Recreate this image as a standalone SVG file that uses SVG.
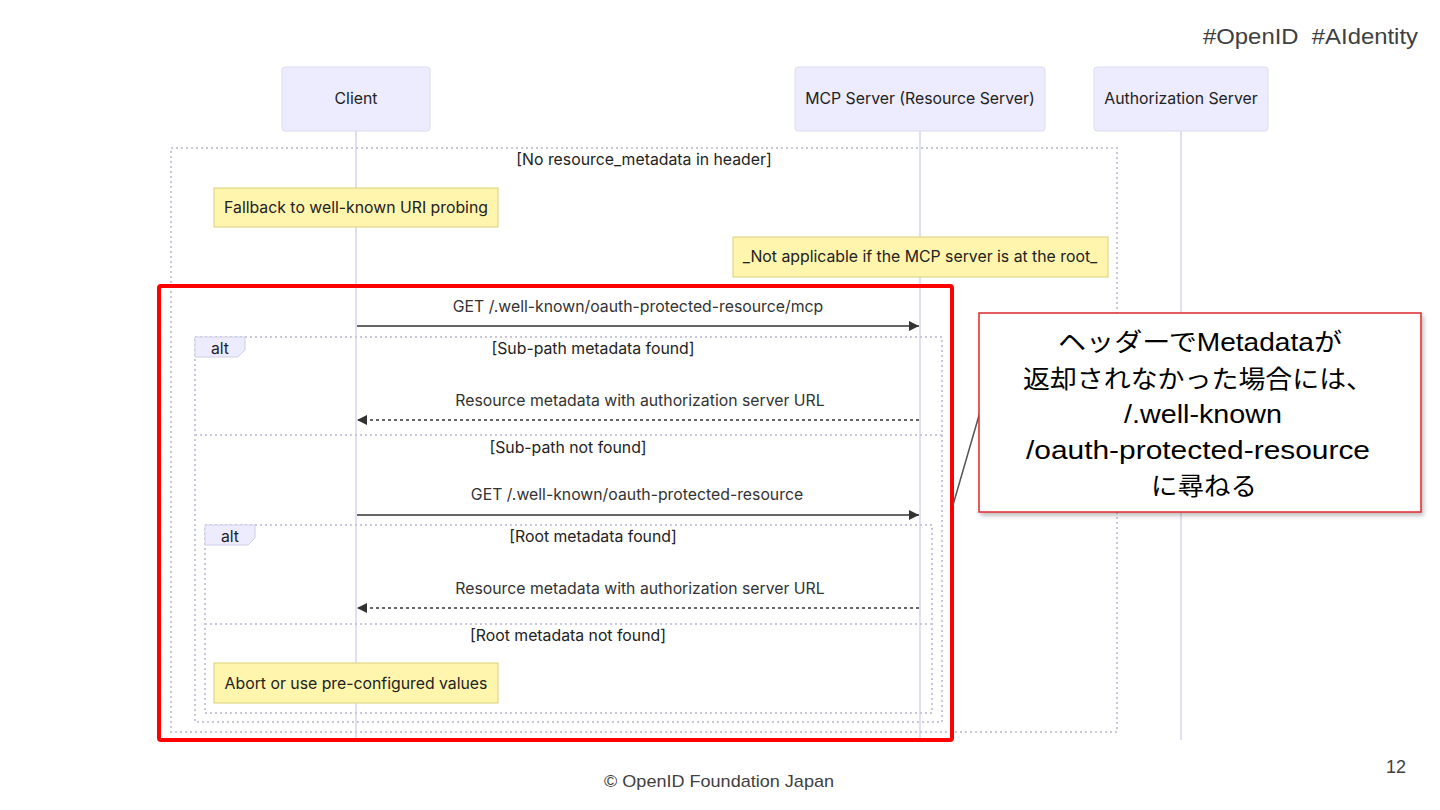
<svg xmlns="http://www.w3.org/2000/svg" width="1440" height="810" viewBox="0 0 1440 810">
<style>
.actor{fill:#ececfe;stroke:#dcdcf2;stroke-width:1}
.atext{font-family:Inter,"Liberation Sans",sans-serif;font-size:15.8px;fill:#222;text-anchor:middle}
.life{stroke:#d6d6ee;stroke-width:1.5;fill:none}
.frame{fill:none;stroke:#c8c8dc;stroke-width:2;stroke-dasharray:2 3}
.note{fill:#fff5ad;stroke:#dccf7a;stroke-width:1}
.ntext{font-family:Inter,"Liberation Sans",sans-serif;font-size:15.8px;fill:#222;text-anchor:middle}
.mtext{font-family:Inter,"Liberation Sans",sans-serif;font-size:15.8px;fill:#333;text-anchor:middle}
.ltext{font-family:Inter,"Liberation Sans",sans-serif;font-size:15.8px;fill:#222;text-anchor:middle}
.msg{stroke:#333;stroke-width:1.5;fill:none}
.dash{stroke-dasharray:3 3}
.altbox{fill:#ececfe;stroke:#d0d0e6;stroke-width:1}
.ctext{font-family:"Liberation Sans",Arial,"Noto Sans CJK JP",sans-serif;font-size:25px;fill:#000;text-anchor:middle}
.slide{font-family:"Liberation Sans",Arial,sans-serif;fill:#404040}
</style>
<defs>
<marker id="ah" viewBox="0 0 10 10" refX="10" refY="5" markerWidth="10" markerHeight="10" markerUnits="userSpaceOnUse" orient="auto">
<path d="M0,0 L10,5 L0,10 z" fill="#333"/>
</marker>
<filter id="sh" x="-5%" y="-5%" width="115%" height="120%">
<feDropShadow dx="2" dy="3" stdDeviation="2" flood-color="#000" flood-opacity="0.25"/>
</filter>
</defs>
<rect width="1440" height="810" fill="#fff"/>
<text class="slide" x="1203" y="44" font-size="22" textLength="215" lengthAdjust="spacingAndGlyphs" xml:space="preserve">#OpenID  #AIdentity</text>

<g id="lifelines">
<line class="life" x1="356" y1="131" x2="356" y2="740"/>
<line class="life" x1="920" y1="131" x2="920" y2="740"/>
<line class="life" x1="1181" y1="131" x2="1181" y2="740"/>
</g>

<g id="actor-client"><rect class="actor" x="282" y="67" width="148" height="64" rx="3"/><text class="atext" x="356" y="104">Client</text></g>
<g id="actor-mcp"><rect class="actor" x="795" y="67" width="250" height="64" rx="3"/><text class="atext" x="920" y="104">MCP Server (Resource Server)</text></g>
<g id="actor-auth"><rect class="actor" x="1094" y="67" width="174" height="64" rx="3"/><text class="atext" x="1181" y="104">Authorization Server</text></g>

<g id="frame-outer">
<rect class="frame" x="171" y="148" width="946" height="584"/>
<text class="ltext" x="644" y="165">[No resource_metadata in header]</text>
</g>

<g id="note-fallback"><rect class="note" x="214" y="188" width="284" height="39"/><text class="ntext" x="356" y="213">Fallback to well-known URI probing</text></g>
<g id="note-notapplicable"><rect class="note" x="733" y="237" width="375" height="40"/><text class="ntext" x="920" y="262">_Not applicable if the MCP server is at the root_</text></g>

<g id="frame-alt1">
<rect class="frame" x="195" y="337" width="747" height="385"/>
<path class="altbox" d="M195,337 H245 V350 L238,357 H195 Z"/>
<text class="ltext" x="220" y="354">alt</text>
<text class="ltext" x="593" y="354">[Sub-path metadata found]</text>
<line class="frame" x1="195" y1="435" x2="942" y2="435"/>
<text class="ltext" x="568" y="453">[Sub-path not found]</text>
</g>

<g id="frame-alt2">
<rect class="frame" x="205" y="525" width="727" height="188"/>
<path class="altbox" d="M205,525 H255 V538 L248,545 H205 Z"/>
<text class="ltext" x="230" y="542">alt</text>
<text class="ltext" x="593" y="542">[Root metadata found]</text>
<line class="frame" x1="205" y1="624" x2="932" y2="624"/>
<text class="ltext" x="568" y="641">[Root metadata not found]</text>
</g>

<g id="note-abort"><rect class="note" x="214" y="663" width="284" height="40"/><text class="ntext" x="356" y="689">Abort or use pre-configured values</text></g>

<g id="connectors">
<text class="mtext" x="638" y="312">GET /.well-known/oauth-protected-resource/mcp</text>
<line class="msg" x1="357" y1="326" x2="919" y2="326" marker-end="url(#ah)"/>
<text class="mtext" x="640" y="406">Resource metadata with authorization server URL</text>
<line class="msg dash" x1="919" y1="420" x2="357" y2="420" marker-end="url(#ah)"/>
<text class="mtext" x="637" y="500">GET /.well-known/oauth-protected-resource</text>
<line class="msg" x1="357" y1="515" x2="919" y2="515" marker-end="url(#ah)"/>
<text class="mtext" x="640" y="594">Resource metadata with authorization server URL</text>
<line class="msg dash" x1="919" y1="608" x2="357" y2="608" marker-end="url(#ah)"/>
</g>

<g id="highlight">
<rect x="159" y="286" width="793" height="454" rx="2" fill="none" stroke="#ff0000" stroke-width="4"/>
</g>

<g id="callout">
<line x1="953" y1="505" x2="980" y2="412" stroke="#555" stroke-width="1.5"/>
<rect x="979" y="313" width="442" height="199" fill="#fff" stroke="#e0262e" stroke-width="1.5" filter="url(#sh)"/>
<text class="ctext" x="1200" y="351" textLength="284" lengthAdjust="spacingAndGlyphs">ヘッダーでMetadataが</text>
<text class="ctext" x="1198" y="388" textLength="350" lengthAdjust="spacingAndGlyphs">返却されなかった場合には、</text>
<text class="ctext" x="1203" y="423" textLength="158" lengthAdjust="spacingAndGlyphs">/.well-known</text>
<text class="ctext" x="1198" y="459" textLength="344" lengthAdjust="spacingAndGlyphs">/oauth-protected-resource</text>
<text class="ctext" x="1204" y="495" textLength="106" lengthAdjust="spacingAndGlyphs">に尋ねる</text>
</g>

<text class="slide" x="604" y="787" font-size="17" fill="#333" textLength="230" lengthAdjust="spacingAndGlyphs">© OpenID Foundation Japan</text>
<text class="slide" x="1386" y="773" font-size="19" textLength="20" lengthAdjust="spacingAndGlyphs">12</text>
</svg>
